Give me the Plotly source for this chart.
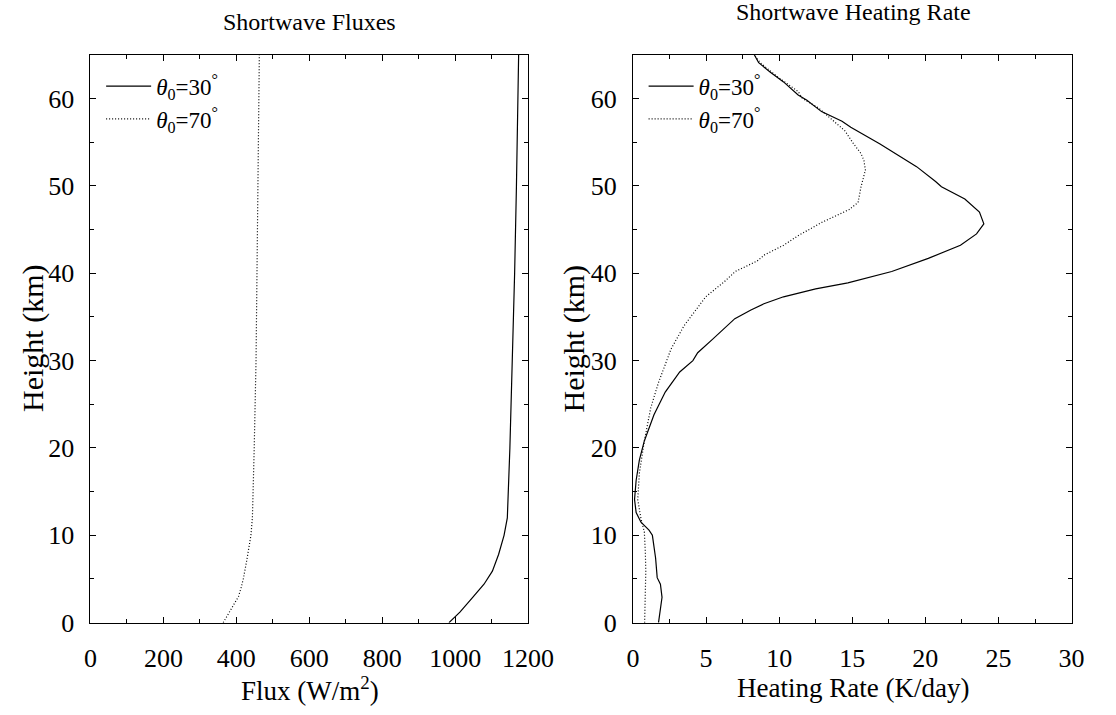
import plotly.graph_objects as go

# ---------------- data ----------------
# Left panel: shortwave flux (W/m^2) vs height (km)
height_flux_30 = [0, 1.2, 2.9, 4.4, 5.9, 7.8, 10, 11.5, 12, 20, 30, 40, 50, 60, 65]
flux_30 = [983, 1013, 1048, 1079, 1102, 1119, 1134, 1141, 1143, 1150, 1157, 1163, 1168, 1172, 1174]

height_flux_70 = [0, 1, 2, 3, 4, 5, 7, 10, 12, 16, 20, 30, 40, 50, 60, 65]
flux_70 = [364, 378, 392, 406, 413, 419, 428, 440, 444, 447, 449, 454, 457, 460, 462, 463]

# Right panel: heating rate (K/day) vs height (km)
height_hr_30 = [0, 1, 2.9, 4.4, 5.15, 7.4, 10, 10.6, 11.5, 12.6, 14.1, 16.3, 18.6, 20.8,
                23.8, 26.4, 28.7, 30, 30.9, 32.4, 34.8, 35.8, 36.5, 37.3, 38.2, 38.9,
                40.2, 41.7, 43.2, 44.5, 45.65, 47.0, 48.5, 49.9, 50.5, 52.2, 53.7, 54.8,
                56.7, 57.4, 58.5, 59.8, 60.4, 61.9, 63.0, 64.1, 65]
hr_30 = [1.75, 1.85, 1.99, 1.88, 1.66, 1.55, 1.33, 1.1, 0.55, 0.22, 0.11, 0.22, 0.44, 0.78,
         1.44, 2.21, 3.2, 4.1, 4.43, 5.42, 6.97, 8.07, 8.96, 10.3, 12.5, 14.7,
         17.7, 20.2, 22.4, 23.5, 24.0, 23.7, 22.7, 21.1, 20.7, 19.4, 18.0, 16.9,
         14.9, 14.3, 12.9, 11.9, 11.3, 10.3, 9.4, 8.6, 8.3]

height_hr_70 = [0, 3, 5.9, 8, 10.4, 11.9, 14.1, 17.1, 20.8, 24.6, 27.5, 29.5, 31.3, 34.0,
                37.3, 39.1, 40.2, 41.4, 42.1, 43.2, 44.3, 45.8, 47.3, 48.1, 49.9, 51.8,
                52.9, 53.7, 54.8, 56.3, 58.9, 60.0, 60.8, 62.6, 64.1, 65]
hr_70 = [0.8, 0.85, 0.88, 0.85, 0.78, 0.55, 0.33, 0.44, 0.78, 1.22, 1.75, 2.2, 2.6, 3.5,
         4.98, 6.3, 7.0, 8.5, 9.0, 10.3, 11.3, 12.9, 14.8, 15.4, 15.6, 15.9,
         15.8, 15.6, 15.1, 14.5, 12.7, 11.6, 11.3, 9.8, 8.7, 8.3]

label_30 = "<i>θ</i><sub>0</sub>=30<sup>°</sup>"
label_70 = "<i>θ</i><sub>0</sub>=70<sup>°</sup>"

FONT = "Liberation Serif"
W, H = 1116, 715

fig = go.Figure()
fig.add_trace(go.Scatter(x=flux_30, y=height_flux_30, mode="lines", name=label_30,
                         line=dict(color="black", width=1.2), xaxis="x", yaxis="y",
                         legend="legend"))
fig.add_trace(go.Scatter(x=flux_70, y=height_flux_70, mode="lines", name=label_70,
                         line=dict(color="black", width=1.2, dash="1px,2px"),
                         xaxis="x", yaxis="y", legend="legend"))
fig.add_trace(go.Scatter(x=hr_30, y=height_hr_30, mode="lines", name=label_30,
                         line=dict(color="black", width=1.2), xaxis="x2", yaxis="y2",
                         legend="legend2"))
fig.add_trace(go.Scatter(x=hr_70, y=height_hr_70, mode="lines", name=label_70,
                         line=dict(color="black", width=1.2, dash="1px,2px"),
                         xaxis="x2", yaxis="y2", legend="legend2"))

def px(x):
    return x / W

def py(y):
    return 1 - y / H

axis_common = dict(showline=True, linecolor="black", linewidth=1, mirror="ticks",
                   ticks="inside", ticklen=6, tickcolor="black", showgrid=False,
                   zeroline=False, tickfont=dict(family=FONT, size=26, color="black"))

ydom = [py(636), py(56)]
fig.update_layout(
    width=W, height=H, margin=dict(l=0, r=0, t=0, b=0),
    paper_bgcolor="white", plot_bgcolor="white",
    font=dict(family=FONT, color="black"),
    xaxis=dict(domain=[px(86), px(537)], range=[0, 1200], dtick=200, anchor="y",
               ticklabelstandoff=12,
               minor=dict(dtick=100, ticks="inside", ticklen=4, tickcolor="black"),
               **axis_common),
    yaxis=dict(domain=ydom, range=[0, 65], dtick=10, anchor="x",
               ticklabelstandoff=10,
               minor=dict(dtick=5, ticks="inside", ticklen=4, tickcolor="black"),
               **axis_common),
    xaxis2=dict(domain=[px(645), px(1097)], range=[0, 30], dtick=5, anchor="y2",
                ticklabelstandoff=12,
                minor=dict(dtick=2.5, ticks="inside", ticklen=4, tickcolor="black"),
                **axis_common),
    yaxis2=dict(domain=ydom, range=[0, 65], dtick=10, anchor="x2",
                ticklabelstandoff=10,
                minor=dict(dtick=5, ticks="inside", ticklen=4, tickcolor="black"),
                **axis_common),
    legend=dict(x=px(97), y=py(66), xanchor="left", yanchor="top",
                bgcolor="rgba(0,0,0,0)", font=dict(family=FONT, size=23),
                tracegroupgap=0, itemwidth=45),
    legend2=dict(x=px(656), y=py(66), xanchor="left", yanchor="top",
                 bgcolor="rgba(0,0,0,0)", font=dict(family=FONT, size=23),
                 tracegroupgap=0, itemwidth=45),
    showlegend=True,
)

xt_font = dict(family=FONT, size=27, color="black")
yt_font = dict(family=FONT, size=30, color="black")
title_font = dict(family=FONT, size=24, color="black")
common = dict(xref="paper", yref="paper", showarrow=False, xanchor="center", yanchor="middle")
fig.add_annotation(text="Shortwave Fluxes", x=px(312), y=py(22), font=title_font, **common)
fig.add_annotation(text="Shortwave Heating Rate", x=px(872), y=py(12), font=title_font, **common)
fig.add_annotation(text="Flux (W/m<sup>2</sup>)", x=px(312), y=py(704), font=xt_font, **common)
fig.add_annotation(text="Heating Rate (K/day)", x=px(872), y=py(703), font=xt_font, **common)
fig.add_annotation(text="Height (km)", x=px(27), y=py(346), textangle=-90, font=yt_font, **common)
fig.add_annotation(text="Height (km)", x=px(584), y=py(346), textangle=-90, font=yt_font, **common)

fig.write_html("out.html")
